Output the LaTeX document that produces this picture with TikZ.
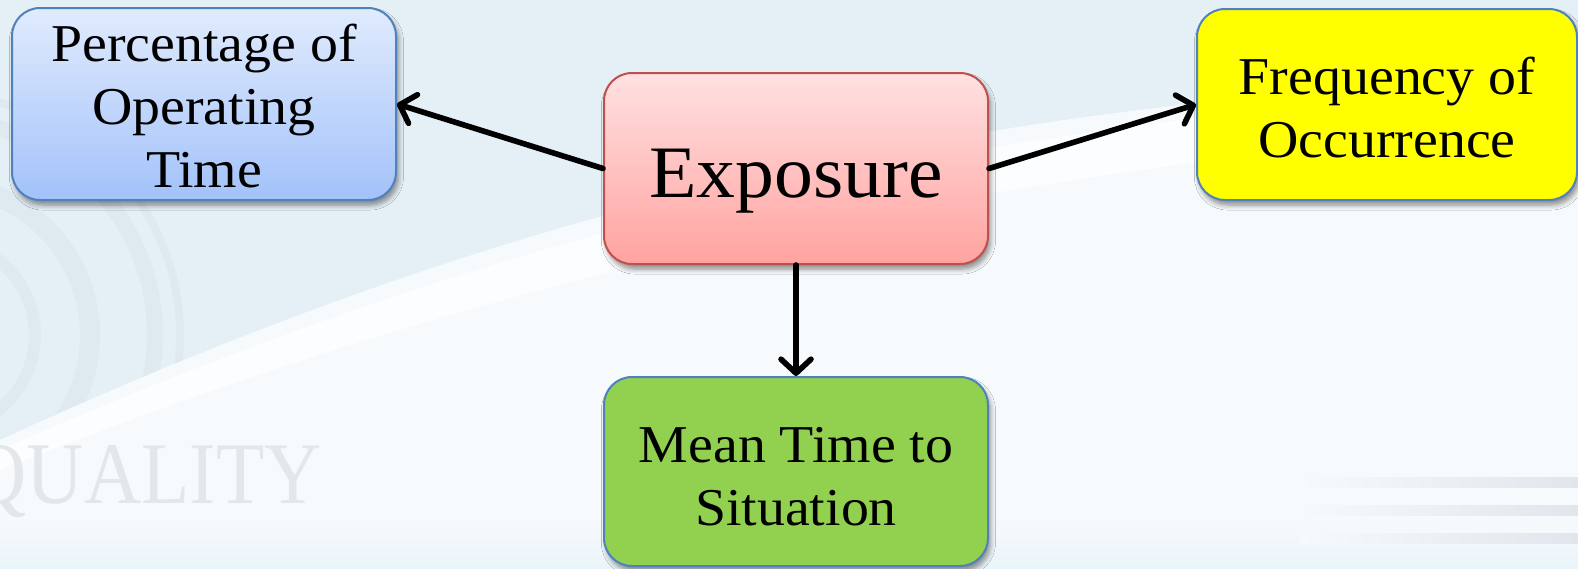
\documentclass[tikz,border=0pt]{standalone}
\usepackage{fontspec}
\setmainfont[FakeStretch=1.05]{Liberation Serif}
\newfontfamily\markfont{Liberation Serif}
\usetikzlibrary{arrows.meta,shadows.blur}

\definecolor{bgblue}{RGB}{228,239,246}
\definecolor{bgwhite}{RGB}{247,250,252}
\definecolor{bgcyan}{RGB}{234,244,250}
\definecolor{ringgray}{RGB}{205,214,222}
\definecolor{markgray}{RGB}{226,231,236}
\definecolor{stripegray}{RGB}{224,230,236}
\definecolor{edgeblue}{RGB}{79,129,189}
\definecolor{edgered}{RGB}{192,80,77}
\definecolor{bluetop}{RGB}{224,235,253}
\definecolor{bluebot}{RGB}{163,194,250}
\definecolor{redtop}{RGB}{255,225,225}
\definecolor{redbot}{RGB}{255,163,160}
\definecolor{boxyellow}{RGB}{255,255,0}
\definecolor{boxgreen}{RGB}{146,208,80}

\tikzset{
  card/.style={draw=edgeblue, line width=1pt, rounded corners=14pt,
    align=center, inner sep=0pt,
    blur shadow={shadow xshift=1.2pt, shadow yshift=-2.5pt,
      shadow blur radius=2.5pt, shadow blur steps=6, shadow opacity=45}},
  small/.style={font=\fontsize{26.6}{31.5}\selectfont},
  conn/.style={line width=2.8pt, line cap=round,
    -{Straight Barb[length=7pt, width=15pt, line cap=round, line join=round]}},
}

\begin{document}
\begin{tikzpicture}[x=0.5pt, y=-0.5pt]
  \useasboundingbox (0,0) rectangle (1578,568);

  % slide background
  \fill[bgblue] (0,0) rectangle (1578,568);
  \begin{scope}
    \clip (0,0) -- (1578,0) -- (1578,75) .. controls (950,100) and (500,210) .. (0,440) -- cycle;
    \foreach \r/\w in {95/6, 150/10, 215/8, 240/4}
      \draw[ringgray, opacity=0.22, line width=\w pt] (-60,335) circle (\r);
  \end{scope}
  \fill[bgwhite] (1578,75) .. controls (950,100) and (500,210) .. (0,440)
    -- (0,568) -- (1578,568) -- cycle;
  \shade[top color=bgwhite, bottom color=bgcyan, draw=none] (0,520) rectangle (1578,568);
  \fill[white, opacity=0.7] (0,470) .. controls (450,290) and (900,180) .. (1578,120)
    -- (1578,85) .. controls (950,120) and (500,230) .. (0,450) -- cycle;

  % watermark lettering and stripes
  \node[anchor=base east, inner sep=0pt, text=markgray,
        font=\markfont\fontsize{44}{44}\selectfont] (mark) at (322,503)
        {\scalebox{0.9}[1]{QUALITY}};
  \foreach \y in {477,505,533}
    \shade[left color=bgwhite, right color=stripegray, draw=none]
      (1300,\y) rectangle (1578,\y+10);

  % boxes
  \node[card, small, minimum width=192pt, minimum height=96pt,
        top color=bluetop, bottom color=bluebot,
        text height=84pt, text depth=1pt] (pct) at (204,104)
        {Percentage of\\Operating\\Time};
  \node[card, draw=edgered, minimum width=192pt, minimum height=95.5pt,
        top color=redtop, bottom color=redbot,
        font=\fontsize{37}{44}\selectfont,
        text height=30pt, text depth=1.5pt] (ex) at (796,168.5)
        {Exposure};
  \node[card, small, fill=boxyellow, minimum width=190pt, minimum height=95.5pt,
        text height=53.5pt, text depth=1pt] (freq) at (1387,104.5)
        {Frequency of\\Occurrence};
  \node[card, small, fill=boxgreen, minimum width=192pt, minimum height=94.5pt,
        text height=54.5pt, text depth=1pt] (mean) at (796,471.5)
        {Mean Time to\\Situation};

  % connectors
  \draw[conn] (ex.west) -- (pct.east);
  \draw[conn] (ex.east) -- (freq.west);
  \draw[conn] (ex.south) -- (mean.north);
\end{tikzpicture}
\end{document}
